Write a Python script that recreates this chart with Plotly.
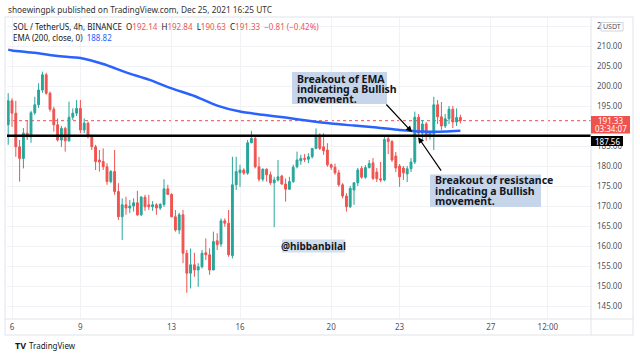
import pandas as pd
import plotly.graph_objects as go

# ---------------- data ----------------
start_time = "2021-12-05 20:00"
candle_freq = "4h"

opens = [190.3, 196.3, 193.2, 184.8, 181.9, 188.2, 187.3, 193.3, 195.3, 199.0,
         202.8, 198.2, 194.2, 190.3, 186.5, 189.4, 186.3, 192.2, 193.2, 194.4,
         189.0, 190.7, 187.3, 184.8, 181.5, 181.1, 179.8, 176.1, 178.6, 173.6,
         167.3, 170.3, 169.5, 170.0, 170.8, 167.8, 172.2, 170.3, 169.8, 170.3,
         169.5, 170.4, 174.3, 172.9, 167.3, 164.0, 167.8, 158.2, 153.2, 155.3,
         154.0, 154.8, 158.3, 157.8, 154.0, 161.3, 160.5, 166.3, 165.7, 157.6,
         175.3, 178.3, 179.0, 178.2, 185.8, 186.9, 179.8, 176.7, 179.2, 177.8,
         175.8, 176.5, 177.5, 175.5, 174.2, 176.1, 179.8, 181.3, 181.9, 181.7,
         182.3, 184.4, 187.3, 184.8, 184.0, 180.3, 179.7, 178.3, 175.3, 172.5,
         169.8, 174.0, 175.8, 179.4, 177.2, 179.6, 180.8, 178.5, 176.8, 176.5,
         186.8, 186.1, 182.5, 180.0, 179.5, 178.0, 179.3, 181.0, 192.2, 188.2,
         190.5, 187.5, 188.0, 195.3, 192.3, 190.0, 191.8, 194.2, 191.0, 192.14]
highs = [198.2, 196.9, 196.3, 186.5, 189.5, 191.5, 193.8, 197.3, 200.7, 203.6,
         203.3, 198.6, 194.8, 191.9, 190.0, 189.8, 196.1, 194.4, 196.5, 196.5,
         191.9, 191.1, 187.8, 185.3, 184.0, 184.4, 180.7, 179.0, 184.0, 175.7,
         171.9, 172.3, 171.5, 171.9, 173.8, 172.5, 172.8, 172.8, 171.2, 170.7,
         170.7, 176.7, 175.3, 173.2, 169.0, 168.3, 169.0, 159.0, 159.4, 158.3,
         155.7, 159.0, 161.9, 159.4, 163.6, 163.2, 166.9, 166.9, 169.0, 182.3,
         182.3, 180.3, 179.4, 186.5, 188.8, 187.3, 182.3, 179.4, 179.4, 178.6,
         177.3, 181.5, 177.8, 176.9, 177.3, 180.3, 183.6, 182.8, 183.0, 183.2,
         184.4, 189.4, 188.2, 188.2, 185.7, 180.6, 180.6, 179.0, 175.7, 173.2,
         175.0, 176.0, 179.5, 180.0, 180.2, 181.5, 182.0, 179.5, 181.0, 187.3,
         187.4, 186.5, 183.5, 180.5, 180.0, 180.0, 182.0, 193.6, 193.0, 191.5,
         191.0, 188.8, 197.3, 196.5, 196.0, 193.0, 195.0, 195.0, 194.4, 192.84]
lows = [185.3, 189.8, 182.3, 176.1, 179.4, 186.5, 185.8, 192.8, 194.5, 198.3,
        197.8, 193.6, 188.6, 186.1, 184.8, 183.6, 186.1, 191.5, 192.5, 188.2,
        188.2, 186.9, 184.0, 179.0, 178.6, 179.0, 175.3, 175.7, 172.8, 166.5,
        161.5, 167.8, 168.2, 168.6, 167.5, 167.5, 168.8, 169.0, 168.8, 167.8,
        169.0, 169.8, 172.8, 167.2, 163.6, 163.0, 155.7, 148.3, 149.4, 152.3,
        149.8, 154.4, 156.5, 152.8, 154.0, 159.0, 159.8, 164.8, 157.3, 156.9,
        174.0, 174.8, 177.8, 177.8, 185.7, 179.4, 176.1, 176.1, 176.1, 175.3,
        164.7, 176.1, 175.3, 171.1, 174.0, 175.8, 179.4, 180.3, 181.0, 180.7,
        181.9, 184.2, 184.0, 182.8, 179.8, 179.0, 177.8, 174.8, 171.9, 168.6,
        169.5, 170.3, 175.0, 176.8, 176.8, 179.4, 176.5, 176.0, 176.0, 176.2,
        183.0, 181.0, 178.5, 174.8, 176.5, 176.0, 178.5, 180.5, 187.5, 186.5,
        186.3, 186.6, 184.0, 190.5, 189.0, 189.5, 190.5, 189.5, 190.0, 190.63]
closes = [196.3, 193.2, 184.8, 181.9, 188.2, 187.3, 193.3, 195.3, 199.0, 202.8,
          198.2, 194.2, 190.3, 186.5, 189.4, 186.3, 192.2, 193.2, 194.4, 189.0,
          190.7, 187.3, 184.8, 181.1, 181.0, 179.8, 176.1, 178.6, 173.6, 167.3,
          170.3, 169.5, 170.0, 170.8, 167.8, 172.2, 169.8, 169.8, 170.3, 169.5,
          170.4, 174.3, 172.9, 167.3, 164.0, 167.8, 158.2, 153.2, 155.3, 154.0,
          154.8, 158.2, 157.8, 154.0, 161.1, 160.3, 166.3, 165.7, 157.8, 175.3,
          178.6, 179.0, 178.2, 185.8, 186.9, 179.8, 176.7, 179.2, 177.8, 175.8,
          176.5, 177.3, 175.5, 174.2, 176.1, 179.7, 181.5, 181.9, 181.7, 182.3,
          184.4, 187.2, 184.4, 183.8, 180.3, 179.7, 178.3, 175.3, 172.5, 169.8,
          174.4, 175.8, 179.0, 177.2, 179.6, 180.6, 176.9, 176.8, 176.5, 186.6,
          186.1, 181.5, 179.5, 177.3, 178.3, 179.3, 181.0, 192.2, 188.2, 190.5,
          187.5, 188.5, 195.3, 192.3, 190.0, 191.8, 194.2, 191.0, 192.1, 191.33]

ema_dates = ["2021-12-05 20:00", "2021-12-06 00:00", "2021-12-07 00:00", "2021-12-08 00:00",
             "2021-12-09 00:00", "2021-12-10 00:00", "2021-12-11 00:00", "2021-12-12 00:00",
             "2021-12-13 00:00", "2021-12-14 00:00", "2021-12-15 00:00", "2021-12-16 00:00",
             "2021-12-17 00:00", "2021-12-18 00:00", "2021-12-19 00:00", "2021-12-20 00:00",
             "2021-12-21 00:00", "2021-12-22 00:00", "2021-12-23 00:00", "2021-12-24 00:00",
             "2021-12-25 00:00", "2021-12-25 16:00"]
ema_values = [209.1, 208.9, 208.3, 207.5, 207.0, 205.5, 203.4, 201.6, 199.4, 197.5,
              195.1, 193.6, 192.8, 192.1, 191.3, 190.6, 190.1, 189.6, 189.0, 188.6,
              188.6, 188.82]

resistance_level = 187.56
last_price = 191.33
price_ticks = [145, 150, 155, 160, 165, 170, 175, 180, 185, 195, 200, 205, 210, 215]
time_tick_dates = ["2021-12-06 00:00", "2021-12-09 00:00", "2021-12-13 00:00", "2021-12-16 00:00",
                   "2021-12-20 00:00", "2021-12-23 00:00", "2021-12-27 00:00", "2021-12-29 12:00"]
time_tick_labels = ["6", "9", "13", "16", "20", "23", "27", "12:00"]

times = pd.date_range(start_time, periods=len(opens), freq=candle_freq)

# ---------------- layout helpers ----------------
W, H = 640, 358
PL, PR, PT, PB = 7, 591, 17, 319
FONT = "Noto Sans"
UP, DOWN = "#26a69a", "#ef5350"
TXT = "#131722"


def px(x):
    return (x - PL) / (PR - PL)


def py(y):
    return (PB - y) / (PB - PT)


fig = go.Figure()
fig.add_trace(go.Candlestick(
    x=times, open=opens, high=highs, low=lows, close=closes,
    increasing=dict(line=dict(color=UP, width=1), fillcolor=UP),
    decreasing=dict(line=dict(color=DOWN, width=1), fillcolor=DOWN),
    showlegend=False, hoverinfo="skip"))
fig.add_trace(go.Scatter(
    x=ema_dates, y=ema_values, mode="lines",
    line=dict(color="#2962ff", width=2.5, shape="spline", smoothing=0.6),
    showlegend=False, hoverinfo="skip"))

shapes = []
shapes.append(dict(type="line", xref="paper", yref="y", x0=0, x1=1,
                   y0=last_price, y1=last_price, layer="below",
                   line=dict(color="#ef5350", width=1, dash="dot")))
shapes.append(dict(type="line", xref="paper", yref="y", x0=0, x1=1,
                   y0=resistance_level, y1=resistance_level, layer="above",
                   line=dict(color="#000000", width=2.5)))
frame_col = "#e0e3eb"
shapes.append(dict(type="rect", xref="paper", yref="paper", x0=px(5), x1=px(633),
                   y0=py(335), y1=py(17), line=dict(color=frame_col, width=1), layer="above"))
shapes.append(dict(type="line", xref="paper", yref="paper", x0=px(591), x1=px(591),
                   y0=py(335), y1=py(17), line=dict(color=frame_col, width=1), layer="above"))
shapes.append(dict(type="line", xref="paper", yref="paper", x0=px(5), x1=px(633),
                   y0=py(319), y1=py(319), line=dict(color=frame_col, width=1), layer="above"))
shapes.append(dict(type="rect", xref="paper", yref="paper", x0=px(591), x1=px(630),
                   y0=py(133.5), y1=py(116), fillcolor="#ef5350", line=dict(width=0), layer="above"))
shapes.append(dict(type="rect", xref="paper", yref="paper", x0=px(591), x1=px(623),
                   y0=py(146), y1=py(136), fillcolor="#000000", line=dict(width=0), layer="above"))
shapes.append(dict(type="rect", xref="paper", yref="paper", x0=px(601), x1=px(623),
                   y0=py(31), y1=py(22.5), fillcolor="#ffffff",
                   line=dict(color="#d1d4dc", width=1), layer="above"))
box_col = "#c6d5ea"
shapes.append(dict(type="rect", xref="paper", yref="paper", x0=px(292), x1=px(387),
                   y0=py(104), y1=py(72), fillcolor=box_col, line=dict(width=0), layer="above"))
shapes.append(dict(type="rect", xref="paper", yref="paper", x0=px(430), x1=px(541),
                   y0=py(207), y1=py(174.5), fillcolor=box_col, line=dict(width=0), layer="above"))
shapes.append(dict(type="rect", xref="paper", yref="paper", x0=px(282), x1=px(345),
                   y0=py(252.5), y1=py(239.5), fillcolor="#d3deec", line=dict(width=0), layer="above"))

ann = []


def text(x, y, s, size=8, color=TXT, xanchor="left", **kw):
    ann.append(dict(xref="paper", yref="paper", x=px(x), y=py(y), text=s,
                    showarrow=False, xanchor=xanchor, yanchor="middle",
                    font=dict(family=FONT, size=size, color=color), **kw))


NB = "\u00a0"


def red(s):
    return f'<span style="color:#ef5350">{s}</span>'


text(6, 9, "shoewingpk published on TradingView.com, Dec 25, 2021 16:25 UTC", size=8.3, color="#333333")
text(11, 26, "SOL / TetherUS, 4h, BINANCE" + NB * 2 + "O" + red("192.14") + NB * 2 + "H" + red("192.84")
     + NB * 2 + "L" + red("190.63") + NB * 2 + "C" + red("191.33") + NB * 2 + red("\u22120.81 (\u22120.42%)"),
     size=8)
text(11, 37, "EMA (200, close, 0)" + NB * 2 + '<span style="color:#2962ff">188.82</span>', size=8)

text(610.5, 120.5, "191.33", size=8, color="#ffffff", xanchor="center")
text(610.5, 128.5, "03:34:07", size=8, color="#ffffff", xanchor="center")
text(607, 141.5, "187.56", size=8, color="#ffffff", xanchor="center")
text(612, 26.8, "USDT", size=7, color="#50535e", xanchor="center")

BS = 10.5
text(295, 78.5, "<b>Breakout of EMA</b>", size=BS)
text(295, 88.5, "<b>indicating a Bullish</b>", size=BS)
text(295, 98.5, "<b>movement.</b>", size=BS)
text(432.5, 180.5, "<b>Breakout of resistance</b>", size=BS)
text(432.5, 190.5, "<b>indicating a Bullish</b>", size=BS)
text(432.5, 200.5, "<b>movement.</b>", size=BS)
text(313.5, 246, "<b>@hibbanbilal</b>", size=10, xanchor="center")

text(13, 345, "<b>TV</b>", size=9, color="#131722")
text(27, 345, "TradingView", size=8, color="#131722")

ann.append(dict(x="2021-12-23 13:00", y=188.5, xref="x", yref="y", text="",
                showarrow=True, ax=-27, ay=-29, arrowhead=2, arrowsize=1, arrowwidth=1.2,
                arrowcolor="#000000"))
ann.append(dict(x="2021-12-23 19:30", y=187.2, xref="x", yref="y", text="",
                showarrow=True, ax=24, ay=35, arrowhead=2, arrowsize=1, arrowwidth=1.2,
                arrowcolor="#000000"))

x0 = pd.Timestamp("2021-12-06") - pd.Timedelta(days=5 / 22.8)
x1 = pd.Timestamp("2021-12-06") + pd.Timedelta(days=579 / 22.8)

fig.update_layout(
    width=W, height=H,
    margin=dict(l=PL, r=W - PR, t=PT, b=H - PB, autoexpand=False),
    paper_bgcolor="#ffffff", plot_bgcolor="#ffffff",
    shapes=shapes, annotations=ann,
    xaxis=dict(type="date", range=[x0, x1], rangeslider=dict(visible=False),
               tickvals=time_tick_dates, ticktext=time_tick_labels,
               showgrid=True, gridcolor="#f0f2f6", gridwidth=1, zeroline=False,
               showline=False, ticks="", ticklabelstandoff=2,
               tickfont=dict(family=FONT, size=8, color="#50535e")),
    yaxis=dict(side="right", range=[141.75, 217.25], tickvals=price_ticks,
               tickformat=".2f", showgrid=True, gridcolor="#f0f2f6", gridwidth=1,
               zeroline=False, showline=False, ticks="", ticklabelstandoff=5,
               tickfont=dict(family=FONT, size=8, color="#50535e")),
)

fig.write_html("out.html", config={"displayModeBar": False},
               post_script="document.body.style.margin='0';document.body.style.overflow='hidden';")
